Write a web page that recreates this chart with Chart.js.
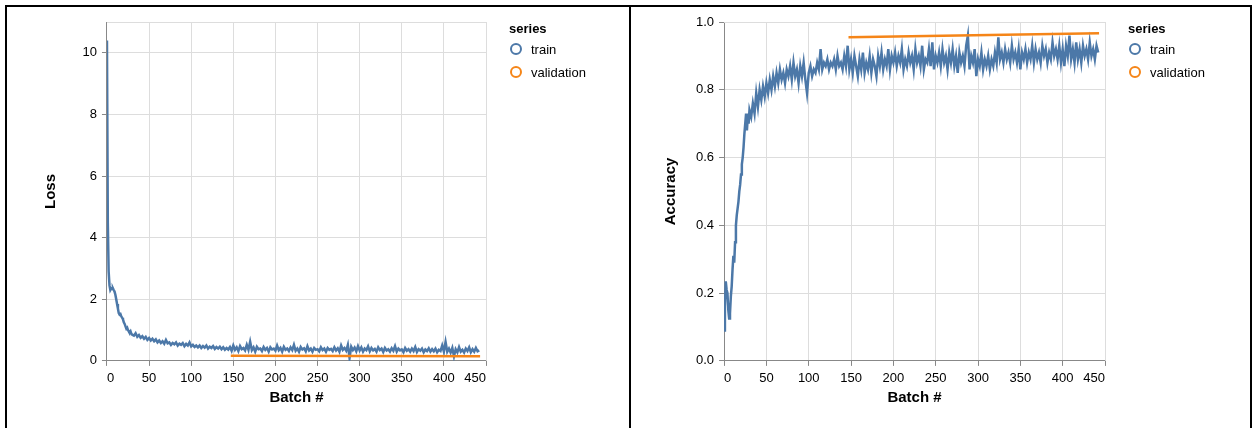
<!DOCTYPE html>
<html>
<head>
<meta charset="utf-8">
<script src="https://cdn.jsdelivr.net/npm/chart.js@4.4.1/dist/chart.umd.min.js"></script>
<style>
  body { margin: 0; background: #fff; font-family: 'Liberation Sans', Arial, sans-serif; }
  #page { position: relative; width: 1256px; height: 428px; overflow: hidden; }
  .rule { position: absolute; background: #000; }
  canvas { position: absolute; }
  .legend { position: absolute; font-size: 13px; color: #000; }
  .legend .ttl { font-weight: bold; height: 18px; line-height: 18px; }
  .legend .item { position: relative; height: 23px; line-height: 23px; padding-left: 22px; }
  .legend .dot { position: absolute; left: 1px; top: 5px; width: 12px; height: 12px; box-sizing: border-box; border: 2px solid; border-radius: 50%; }
</style>
</head>
<body>
<div id="page">
  <div class="rule" style="left:5px;top:5px;width:1247px;height:2px"></div>
  <div class="rule" style="left:5px;top:5px;width:2px;height:423px"></div>
  <div class="rule" style="left:629px;top:5px;width:2px;height:423px"></div>
  <div class="rule" style="left:1250px;top:5px;width:2px;height:423px"></div>
  <canvas id="lossChart" width="622" height="421" style="left:7px;top:7px"></canvas>
  <canvas id="accChart" width="619" height="421" style="left:631px;top:7px"></canvas>
  <div class="legend" id="lossLegend" style="left:509px;top:20px"></div>
  <div class="legend" id="accLegend" style="left:1128px;top:20px"></div>
</div>
<script>
// batch numbers shared by both train curves
var batches = [
  0,1,2,3,4,5,6,7,8,9,
  10,11,12,13,14,15,16,17,18,19,
  20,21,22,23,24,25,26,27,28,29,
  30,32,34,36,38,40,42,44,46,48,
  50,52,54,56,58,60,62,64,66,68,
  70,72,74,76,78,80,82,84,86,88,
  90,92,94,96,98,100,102,104,106,108,
  110,112,114,116,118,120,122,124,126,128,
  130,132,134,136,138,140,142,144,146,148,
  150,152,154,156,158,160,162,164,166,168,
  170,172,174,176,178,180,182,184,186,188,
  190,192,194,196,198,200,202,204,206,208,
  210,212,214,216,218,220,222,224,226,228,
  230,232,234,236,238,240,242,244,246,248,
  250,252,254,256,258,260,262,264,266,268,
  270,272,274,276,278,280,282,284,286,288,
  290,292,294,296,298,300,302,304,306,308,
  310,312,314,316,318,320,322,324,326,328,
  330,332,334,336,338,340,342,344,346,348,
  350,352,354,356,358,360,362,364,366,368,
  370,372,374,376,378,380,382,384,386,388,
  390,392,394,396,398,400,402,404,406,408,
  410,412,414,416,418,420,422,424,426,428,
  430,432,434,436,438,440,442
];

var trainLoss = [
  10.4,4.5,2.9,2.45,2.3,2.35,2.33,2.36,2.3,2.25,
  2.15,2.0,1.85,1.7,1.55,1.5,1.52,1.45,1.4,1.35,
  1.25,1.2,1.12,1.05,1.08,1.0,0.95,0.92,0.96,0.88,
  0.85,0.82,0.9,0.78,0.84,0.75,0.8,0.72,0.78,0.68,
  0.74,0.66,0.72,0.64,0.7,0.6,0.66,0.58,0.64,0.56,
  0.68,0.57,0.6,0.52,0.58,0.54,0.6,0.5,0.56,0.52,
  0.58,0.48,0.55,0.5,0.6,0.47,0.52,0.45,0.5,0.44,
  0.5,0.42,0.48,0.43,0.5,0.4,0.46,0.42,0.48,0.39,
  0.45,0.4,0.46,0.38,0.44,0.36,0.42,0.37,0.45,0.33,
  0.5,0.36,0.44,0.32,0.48,0.38,0.42,0.34,0.52,0.36,
  0.62,0.35,0.44,0.3,0.46,0.38,0.4,0.32,0.45,0.36,
  0.42,0.3,0.44,0.37,0.4,0.33,0.5,0.35,0.42,0.3,
  0.46,0.36,0.4,0.32,0.44,0.35,0.52,0.33,0.4,0.3,
  0.45,0.37,0.41,0.31,0.48,0.34,0.4,0.3,0.42,0.36,
  0.38,0.31,0.44,0.35,0.4,0.3,0.42,0.36,0.39,0.32,
  0.44,0.34,0.41,0.3,0.5,0.36,0.42,0.33,0.52,0.1,
  0.46,0.35,0.43,0.31,0.48,0.34,0.44,0.3,0.4,0.35,
  0.47,0.31,0.42,0.34,0.39,0.3,0.44,0.35,0.4,0.29,
  0.42,0.34,0.38,0.3,0.41,0.33,0.48,0.3,0.4,0.34,
  0.37,0.28,0.42,0.33,0.38,0.3,0.4,0.32,0.45,0.29,
  0.38,0.33,0.4,0.28,0.37,0.32,0.41,0.3,0.38,0.31,
  0.4,0.28,0.36,0.32,0.5,0.3,0.62,0.3,0.4,0.27,
  0.42,0.15,0.38,0.28,0.45,0.3,0.36,0.27,0.4,0.32,
  0.44,0.28,0.38,0.3,0.42,0.31,0.34
];

var trainAcc = [
  0.09,0.16,0.235,0.21,0.2,0.15,0.125,0.14,0.19,0.22,
  0.27,0.31,0.29,0.35,0.4,0.43,0.45,0.47,0.5,0.52,
  0.55,0.58,0.6,0.63,0.67,0.7,0.73,0.68,0.72,0.7,
  0.74,0.72,0.76,0.73,0.79,0.75,0.8,0.77,0.81,0.78,
  0.82,0.79,0.83,0.8,0.84,0.81,0.85,0.82,0.86,0.83,
  0.85,0.82,0.86,0.84,0.87,0.83,0.88,0.84,0.86,0.82,
  0.87,0.84,0.88,0.83,0.79,0.85,0.87,0.84,0.86,0.85,
  0.88,0.86,0.92,0.86,0.88,0.87,0.89,0.86,0.88,0.87,
  0.89,0.86,0.9,0.87,0.88,0.86,0.9,0.87,0.93,0.86,
  0.89,0.85,0.9,0.87,0.84,0.89,0.86,0.91,0.85,0.88,
  0.86,0.9,0.85,0.89,0.87,0.84,0.9,0.87,0.91,0.86,
  0.89,0.87,0.92,0.86,0.9,0.88,0.91,0.87,0.9,0.88,
  0.92,0.86,0.89,0.87,0.91,0.88,0.9,0.86,0.92,0.88,
  0.9,0.87,0.93,0.86,0.89,0.88,0.92,0.87,0.94,0.86,
  0.9,0.88,0.91,0.87,0.92,0.88,0.9,0.86,0.91,0.88,
  0.92,0.87,0.9,0.85,0.91,0.88,0.9,0.87,0.93,0.96,
  0.86,0.9,0.88,0.92,0.84,0.89,0.87,0.91,0.86,0.89,
  0.87,0.9,0.86,0.89,0.87,0.91,0.88,0.955,0.89,0.91,
  0.88,0.92,0.89,0.91,0.88,0.93,0.89,0.91,0.88,0.92,
  0.86,0.91,0.89,0.92,0.88,0.91,0.89,0.93,0.88,0.92,
  0.89,0.91,0.88,0.93,0.9,0.92,0.88,0.91,0.89,0.94,
  0.9,0.92,0.89,0.93,0.88,0.92,0.87,0.93,0.9,0.96,
  0.89,0.92,0.88,0.94,0.89,0.92,0.88,0.93,0.9,0.92,
  0.89,0.94,0.9,0.92,0.89,0.93,0.91
];

// validation is only evaluated a few times
var valBatches = [147, 295, 443];
var valLoss = [0.17, 0.16, 0.15];
var valAcc = [0.955, 0.961, 0.967];

var seriesNames = ['train', 'validation'];
var seriesColors = ['#4c78a8', '#f58518'];

var xTicks = [0, 50, 100, 150, 200, 250, 300, 350, 400, 450];
var lossTicks = [0, 2, 4, 6, 8, 10];
var accTicks = [0, 0.2, 0.4, 0.6, 0.8, 1.0];

Chart.defaults.font.family = "'Liberation Sans', Arial, sans-serif";
Chart.defaults.color = '#000';

function toPoints(xs, ys) {
  return xs.map(function (x, i) { return { x: x, y: ys[i] }; });
}

// light frame on top/right of the plot like vega's view stroke
var viewBorder = {
  id: 'viewBorder',
  beforeDatasetsDraw: function (chart) {
    var a = chart.chartArea, c = chart.ctx;
    c.save();
    c.strokeStyle = '#ddd';
    c.lineWidth = 1;
    c.beginPath();
    c.moveTo(a.left, a.top + 0.5);
    c.lineTo(a.right + 0.5, a.top + 0.5);
    c.lineTo(a.right + 0.5, a.bottom);
    c.stroke();
    c.restore();
  }
};

function makeChart(id, trainY, valY, yMax, yTicks, yTitle, yFmt, pad, titlePad) {
  return new Chart(document.getElementById(id), {
    type: 'line',
    data: {
      datasets: [
        {
          label: seriesNames[0],
          data: toPoints(batches, trainY),
          borderColor: seriesColors[0],
          borderWidth: 2.5,
          pointRadius: 0,
          tension: 0,
          order: 1
        },
        {
          label: seriesNames[1],
          data: toPoints(valBatches, valY),
          borderColor: seriesColors[1],
          borderWidth: 2.5,
          pointRadius: 0,
          tension: 0,
          order: 0
        }
      ]
    },
    options: {
      responsive: false,
      animation: false,
      devicePixelRatio: 1,
      layout: { padding: pad },
      plugins: { legend: { display: false }, tooltip: { enabled: false } },
      scales: {
        x: {
          type: 'linear',
          min: 0,
          max: 450,
          afterBuildTicks: function (s) { s.ticks = xTicks.map(function (v) { return { value: v }; }); },
          grid: { color: '#ddd', tickColor: '#888', tickLength: 5 },
          border: { color: '#888' },
          ticks: { font: { size: 13 }, padding: 5, align: 'inner', maxRotation: 0 },
          title: { display: true, text: 'Batch #', font: { size: 15, weight: 'bold', lineHeight: 1 }, padding: { top: -1.5, bottom: 0 } }
        },
        y: {
          min: 0,
          max: yMax,
          afterBuildTicks: function (s) { s.ticks = yTicks.map(function (v) { return { value: v }; }); },
          grid: { color: '#ddd', tickColor: '#888', tickLength: 5 },
          border: { color: '#888' },
          ticks: { font: { size: 13 }, padding: 5, callback: yFmt },
          title: { display: true, text: yTitle, font: { size: 15, weight: 'bold' }, padding: titlePad }
        }
      }
    },
    plugins: [viewBorder]
  });
}

makeChart('lossChart', trainLoss, valLoss, 11, lossTicks, 'Loss',
  function (v) { return String(v); },
  { left: 35, top: 15, right: 143, bottom: 23 }, { top: 0, bottom: 17.5 });

makeChart('accChart', trainAcc, valAcc, 1, accTicks, 'Accuracy',
  function (v) { return v.toFixed(1); },
  { left: 31, top: 15, right: 145, bottom: 23 }, { top: 0, bottom: 11 });

// legends
function buildLegend(id) {
  var el = document.getElementById(id);
  var html = '<div class="ttl">series</div>';
  seriesNames.forEach(function (name, i) {
    html += '<div class="item"><span class="dot" style="border-color:' + seriesColors[i] + '"></span>' + name + '</div>';
  });
  el.innerHTML = html;
}
buildLegend('lossLegend');
buildLegend('accLegend');
</script>
</body>
</html>
